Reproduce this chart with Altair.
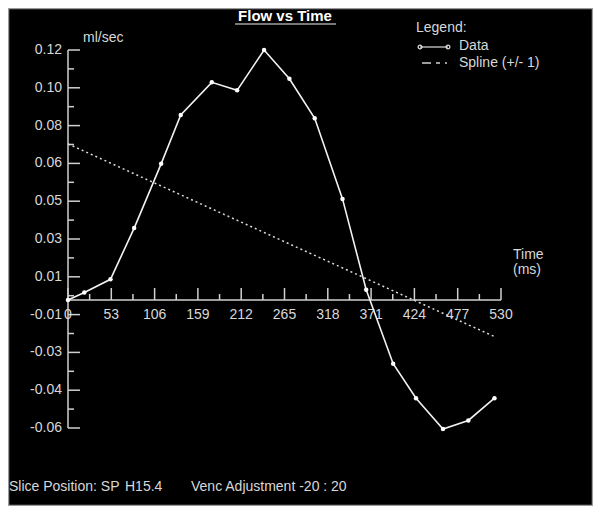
import altair as alt
import pandas as pd

# ---- data ----
time_ms = [0, 20, 52, 81, 114, 138, 176, 207, 240, 271, 302, 336, 365, 398, 426, 459, 490, 522]
flow = [0.001, 0.0045, 0.0108, 0.0352, 0.0658, 0.0891, 0.1046, 0.1008, 0.1200, 0.1063,
        0.0875, 0.0491, 0.0058, -0.0294, -0.0458, -0.0605, -0.0564, -0.0458]
spline_t = [0, 521]
spline_v = [0.0753, -0.0163]

x_ticks = [0, 53, 106, 159, 212, 265, 318, 371, 424, 477, 530]
x_tick_labels = ["0", "53", "106", "159", "212", "265", "318", "371", "424", "477", "530"]
x_minor = [26.5, 79.5, 132.5, 185.5, 238.5, 291.5, 344.5, 397.5, 450.5, 503.5]
y_ticks = [-0.06, -0.042, -0.024, -0.006, 0.012, 0.03, 0.048, 0.066, 0.084, 0.102, 0.12]
y_tick_labels = ["-0.06", "-0.04", "-0.03", "-0.01", "0.01", "0.03", "0.05", "0.06", "0.08", "0.10", "0.12"]
y_minor = [-0.051, -0.033, -0.015, 0.003, 0.021, 0.039, 0.057, 0.075, 0.093, 0.111]

title_text = "Flow vs Time"
y_unit = "ml/sec"
x_unit = ["Time", "(ms)"]
legend_title = "Legend:"
legend_items = ["Data", "Spline (+/- 1)"]
footer_parts = ["Slice Position: SP", "H15.4", "Venc Adjustment -20 : 20"]

# ---- layout / style ----
W, H = 433, 378
FONT = "Liberation Sans"
AX = "#d0d0d0"
TXT = "#d8d8d8"
XAXIS_Y = 250  # pixel row of the time axis (through zero flow)

df = pd.DataFrame({"t": time_ms, "v": flow})
df_sp = pd.DataFrame({"t": spline_t, "v": spline_v})
df_xt = pd.DataFrame({"t": x_ticks, "lab": x_tick_labels})
df_xm = pd.DataFrame({"t": x_minor})
df_yt = pd.DataFrame({"v": y_ticks, "lab": y_tick_labels})
df_ym = pd.DataFrame({"v": y_minor})
one = alt.Data(values=[{}])

xs = alt.Scale(domain=[0, 530], nice=False, zero=False)
ys = alt.Scale(domain=[-0.06, 0.12], nice=False, zero=False)
X = lambda f: alt.X(f, type="quantitative", scale=xs, axis=None)
Y = lambda f: alt.Y(f, type="quantitative", scale=ys, axis=None)

data_line = alt.Chart(df).mark_line(
    color="#f2f2f2", strokeWidth=1.6,
    point=alt.OverlayMarkDef(filled=True, fill="white", color="white", size=20, opacity=1),
).encode(x=X("t"), y=Y("v"))

spline = alt.Chart(df_sp).mark_line(
    color="#dcdcdc", strokeWidth=1.5, strokeDash=[2, 3]
).encode(x=X("t"), y=Y("v"))

# --- y axis (ticks pointing inward, labels on the left) ---
y_domain = alt.Chart(df_yt).mark_rule(color=AX, strokeWidth=1.5).encode(
    y=alt.Y("min(v)", scale=ys, axis=None), y2=alt.Y2("max(v)"), x=alt.value(0)
)
y_major = alt.Chart(df_yt).mark_rule(color=AX, strokeWidth=1.5).encode(
    y=Y("v"), x=alt.value(0), x2=alt.value(12)
)
y_minor_ticks = alt.Chart(df_ym).mark_rule(color=AX, strokeWidth=1.5).encode(
    y=Y("v"), x=alt.value(0), x2=alt.value(6)
)
y_labels = alt.Chart(df_yt).mark_text(
    font=FONT, fontSize=14, color=TXT, align="right", baseline="middle", dx=-6
).encode(y=Y("v"), x=alt.value(0), text="lab:N")

# --- x axis (through zero, ticks pointing up, labels below) ---
x_domain = alt.Chart(df_xt).mark_rule(color=AX, strokeWidth=1.5).encode(
    x=alt.X("min(t)", scale=xs, axis=None), x2=alt.X2("max(t)"), y=alt.value(XAXIS_Y)
)
x_major = alt.Chart(df_xt).mark_rule(color=AX, strokeWidth=1.5).encode(
    x=X("t"), y=alt.value(XAXIS_Y), y2=alt.value(XAXIS_Y - 12)
)
x_minor_ticks = alt.Chart(df_xm).mark_rule(color=AX, strokeWidth=1.5).encode(
    x=X("t"), y=alt.value(XAXIS_Y), y2=alt.value(XAXIS_Y - 6)
)
x_labels = alt.Chart(df_xt).mark_text(
    font=FONT, fontSize=14, color=TXT, align="center", baseline="top", dy=8
).encode(x=X("t"), y=alt.value(XAXIS_Y), text="lab:N")


def txt(text, x, y, size=14, weight="normal", align="left", color=TXT):
    return alt.Chart(one).mark_text(
        text=text, font=FONT, fontSize=size, fontWeight=weight,
        align=align, baseline="alphabetic", color=color,
    ).encode(x=alt.value(x), y=alt.value(y))


def hrule(x1, x2, y, color=AX, width=1.5, dash=None):
    kw = dict(color=color, strokeWidth=width)
    if dash:
        kw["strokeDash"] = dash
    return alt.Chart(one).mark_rule(**kw).encode(
        x=alt.value(x1), x2=alt.value(x2), y=alt.value(y)
    )


title = txt(title_text, 217, -29, size=15, weight="bold", align="center", color="white")
title_ul = hrule(167, 268, -26, color="#a0a0a0", width=1.5)
yunit = txt(y_unit, 15, -8, size=14)
xunit1 = txt(x_unit[0], 445, 209, size=14)
xunit2 = txt(x_unit[1], 445, 224, size=14)

leg_title = txt(legend_title, 348, -18, size=14)
leg_data = txt(legend_items[0], 391, 0, size=14)
leg_spline = txt(legend_items[1], 391, 17, size=14)
leg_line = hrule(352, 380, -3, color="#e0e0e0", width=1.2)
leg_pts = alt.Chart(one).mark_point(
    shape="circle", size=14, color="#e0e0e0", filled=False, strokeWidth=1.2, opacity=1
).encode(x=alt.value(352), y=alt.value(-3))
leg_pts2 = alt.Chart(one).mark_point(
    shape="circle", size=14, color="#e0e0e0", filled=False, strokeWidth=1.2, opacity=1
).encode(x=alt.value(380), y=alt.value(-3))
leg_dash = hrule(354, 382, 13, color="#d0d0d0", width=1.5, dash=[9, 5, 4, 5, 2])

foot1 = txt(footer_parts[0], -59, 440.5, size=14)
foot2 = txt(footer_parts[1], 57, 440.5, size=14)
foot3 = txt(footer_parts[2], 123, 440.5, size=14)

frame = alt.Chart(one).mark_rect(filled=False, stroke="#9a9a9a", strokeWidth=1.5).encode(
    x=alt.value(-59.5), x2=alt.value(W + 91.5), y=alt.value(-41.5), y2=alt.value(H + 77.5)
)

chart = alt.layer(
    frame,
    y_domain, y_major, y_minor_ticks, y_labels,
    x_domain, x_major, x_minor_ticks, x_labels,
    spline, data_line,
    title, title_ul, yunit, xunit1, xunit2,
    leg_title, leg_data, leg_spline, leg_line, leg_pts, leg_pts2, leg_dash,
    foot1, foot2, foot3,
).properties(
    width=W, height=H, background="black",
    padding={"left": 60, "top": 42, "right": 92, "bottom": 78},
    autosize=alt.AutoSizeParams(type="none"),
).configure_view(stroke=None)

chart.save("out.html", embed_options={"renderer": "svg", "actions": False})
